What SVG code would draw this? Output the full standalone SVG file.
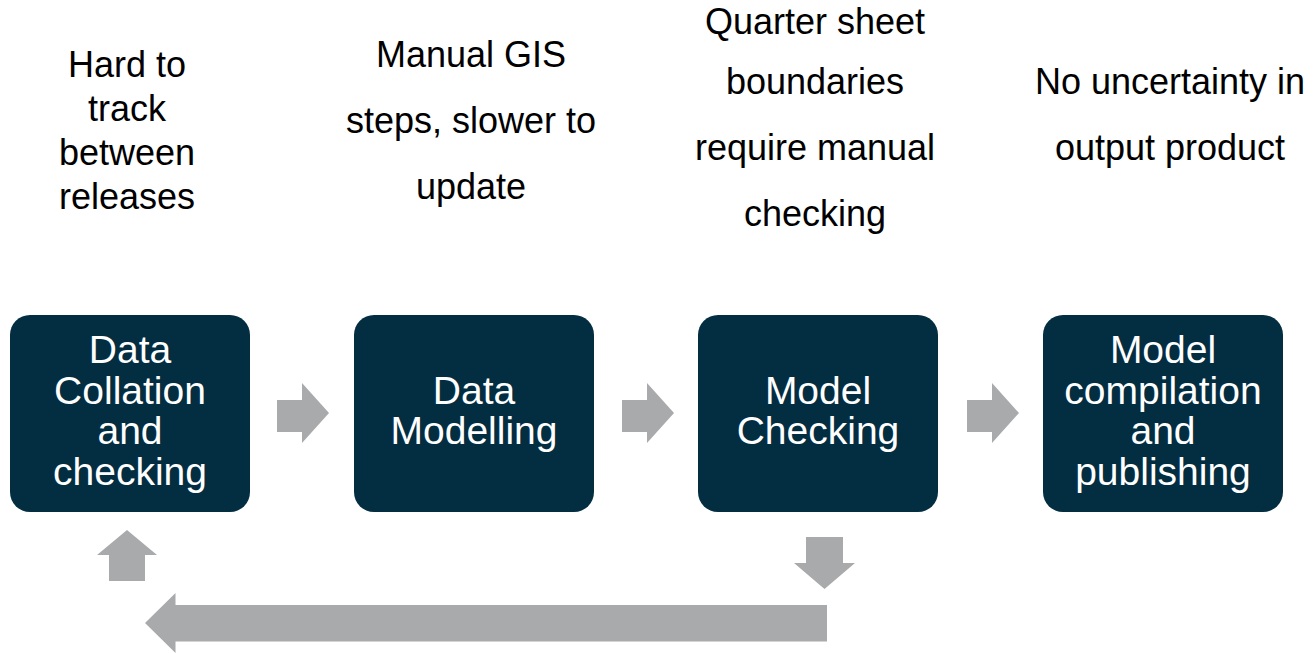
<svg xmlns="http://www.w3.org/2000/svg" width="1314" height="653" viewBox="0 0 1314 653">
<style>
.box{fill:#032d41}
.bt{font-family:"Liberation Sans",Arial,sans-serif;font-size:39px;fill:#ffffff;text-anchor:middle}
.nt{font-family:"Liberation Sans",Arial,sans-serif;font-size:36px;fill:#000000;text-anchor:middle}
.arr{fill:#a9aaac}
</style>
<rect width="1314" height="653" fill="#ffffff"/>
<g id="note1">
<text class="nt" x="127" y="77">Hard to</text>
<text class="nt" x="127" y="121">track</text>
<text class="nt" x="127" y="165">between</text>
<text class="nt" x="127" y="209">releases</text>
</g>
<g id="note2">
<text class="nt" x="471" y="67">Manual GIS</text>
<text class="nt" x="471" y="133">steps, slower to</text>
<text class="nt" x="471" y="199">update</text>
</g>
<g id="note3">
<text class="nt" x="815" y="34">Quarter sheet</text>
<text class="nt" x="815" y="94">boundaries</text>
<text class="nt" x="815" y="160">require manual</text>
<text class="nt" x="815" y="226">checking</text>
</g>
<g id="note4">
<text class="nt" x="1170" y="94">No uncertainty in</text>
<text class="nt" x="1170" y="160">output product</text>
</g>
<g id="node1">
<rect class="box" x="10" y="315" width="240" height="197" rx="20"/>
<text class="bt" x="130" y="363">Data</text>
<text class="bt" x="130" y="404">Collation</text>
<text class="bt" x="130" y="444">and</text>
<text class="bt" x="130" y="485">checking</text>
</g>
<g id="node2">
<rect class="box" x="354" y="315" width="240" height="197" rx="20"/>
<text class="bt" x="474" y="404">Data</text>
<text class="bt" x="474" y="444">Modelling</text>
</g>
<g id="node3">
<rect class="box" x="698" y="315" width="240" height="197" rx="20"/>
<text class="bt" x="818" y="404">Model</text>
<text class="bt" x="818" y="444">Checking</text>
</g>
<g id="node4">
<rect class="box" x="1043" y="315" width="240" height="197" rx="20"/>
<text class="bt" x="1163" y="363">Model</text>
<text class="bt" x="1163" y="404">compilation</text>
<text class="bt" x="1163" y="444">and</text>
<text class="bt" x="1163" y="485">publishing</text>
</g>
<g id="connectors">
<polygon class="arr" points="277,400 302,400 302,383 329,413 302,443 302,432 277,432"/>
<polygon class="arr" points="622,400 647,400 647,383 674,413 647,443 647,432 622,432"/>
<polygon class="arr" points="967,400 992,400 992,383 1019,413 992,443 992,432 967,432"/>
<polygon class="arr" points="806,537 843,537 843,563 855,563 824.5,589 794,563 806,563"/>
<polygon class="arr" points="827,605 175.5,605 175.5,593 145,623 175.5,653 175.5,641.5 827,641.5"/>
<polygon class="arr" points="109,581 145,581 145,555 157,555 127,530 97,555 109,555"/>
</g>
</svg>
